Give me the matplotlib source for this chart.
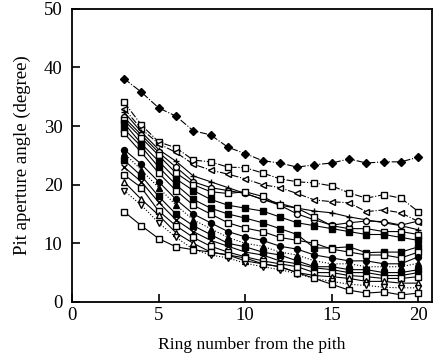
import numpy as np
import matplotlib
matplotlib.use("Agg")
import matplotlib.pyplot as plt

plt.rcParams['font.family'] = ['Liberation Serif', 'DejaVu Serif']

rings = list(range(3, 21))

# pit aperture angle per tree
tree_a = [38.1, 35.8, 33.1, 31.7, 29.2, 28.5, 26.4, 25.3, 24.1, 23.7, 23.0, 23.4, 23.7, 24.4, 23.7, 23.9, 23.9, 24.7]
tree_b = [34.1, 30.2, 27.3, 26.3, 24.2, 23.9, 23.0, 22.9, 22.0, 21.0, 20.5, 20.3, 19.8, 18.6, 17.7, 18.3, 17.7, 15.4]
tree_c = [33.0, 29.5, 27.0, 25.5, 23.5, 22.5, 21.8, 21.0, 20.0, 19.5, 18.5, 17.4, 17.1, 16.9, 15.4, 15.7, 15.2, 13.7]
tree_d = [32.4, 29.0, 26.0, 24.0, 21.5, 20.5, 19.5, 18.5, 17.5, 16.8, 16.0, 15.5, 15.2, 14.5, 14.0, 13.5, 13.0, 12.3]
tree_e = [31.5, 28.5, 25.5, 23.0, 20.5, 19.5, 19.0, 18.5, 17.5, 16.5, 15.0, 14.0, 13.1, 13.5, 13.8, 13.7, 13.1, 13.8]
tree_f = [31.0, 28.0, 25.0, 22.0, 20.0, 18.8, 18.5, 18.8, 18.0, 16.5, 16.0, 14.5, 13.0, 12.5, 12.5, 12.0, 12.0, 11.5]
tree_g = [30.5, 27.0, 24.0, 21.0, 19.0, 17.5, 16.5, 16.0, 15.5, 14.5, 13.5, 13.0, 12.5, 12.0, 11.5, 11.5, 11.0, 10.5]
tree_h = [29.5, 26.5, 23.0, 20.0, 17.5, 16.0, 15.0, 14.3, 13.5, 12.5, 11.5, 9.2, 9.2, 9.4, 8.4, 8.5, 8.5, 9.4]
tree_i = [28.8, 25.5, 22.0, 19.0, 16.5, 15.0, 13.5, 12.6, 12.0, 11.0, 10.5, 10.0, 9.0, 8.5, 8.0, 8.0, 7.5, 8.5]
tree_j = [26.0, 23.5, 20.5, 17.5, 15.0, 13.5, 12.0, 11.1, 10.5, 9.5, 9.0, 8.0, 7.5, 7.0, 7.0, 6.5, 6.5, 7.7]
tree_k = [25.4, 22.5, 19.5, 16.5, 14.0, 12.5, 11.0, 10.0, 9.5, 8.5, 8.0, 7.0, 6.5, 6.5, 6.0, 6.0, 6.0, 6.6]
tree_l = [24.2, 21.5, 18.0, 15.0, 13.0, 11.5, 10.0, 9.4, 8.5, 8.0, 7.0, 6.0, 6.0, 5.5, 5.5, 5.0, 5.0, 5.5]
tree_m = [23.0, 20.5, 17.0, 14.0, 12.0, 10.5, 9.5, 8.5, 8.0, 7.0, 6.5, 5.8, 5.5, 5.0, 5.0, 4.5, 4.5, 5.0]
tree_n = [21.7, 19.5, 15.5, 13.0, 11.0, 9.5, 8.5, 7.7, 7.0, 6.5, 6.0, 5.0, 5.0, 4.5, 4.3, 4.0, 4.0, 4.3]
tree_o = [20.5, 17.5, 14.8, 11.8, 10.0, 8.5, 8.0, 7.0, 6.5, 6.0, 5.0, 4.5, 4.3, 4.0, 3.5, 3.5, 3.2, 3.2]
tree_p = [19.0, 16.5, 13.5, 11.0, 9.0, 8.0, 7.5, 6.6, 6.0, 5.5, 4.8, 4.0, 3.5, 3.0, 2.8, 2.5, 2.4, 2.4]
tree_q = [15.4, 13.0, 10.8, 9.4, 8.9, 8.5, 8.0, 7.5, 6.5, 6.0, 5.0, 4.0, 3.0, 2.0, 1.5, 1.7, 1.2, 1.5]

series = [tree_a, tree_b, tree_c, tree_d, tree_e, tree_f, tree_g, tree_h, tree_i,
          tree_j, tree_k, tree_l, tree_m, tree_n, tree_o, tree_p, tree_q]
markers = ['D', 's', '<', '+', 'o', 's', 's', 's', 's', 'o', '^', 's', 'x', 's', '^', 'v', 's']
filled = [True, False, False, True, False, False, True, True, False, True, True, True, True, False, False, False, False]
styles = ['-.', '-.', '-.', '-', '-', '-', '-', '-', '-', '-', ':', '-', '-', '-', '-', ':', '-']

fig = plt.figure(figsize=(4.37, 3.56), dpi=100)
ax = fig.add_axes([0.165, 0.152, 0.824, 0.823])

for vals, m, f, ls in zip(series, markers, filled, styles):
    ax.plot(rings, vals, linestyle=ls, color='black', linewidth=0.8,
            marker=m, markersize=4.3, markeredgewidth=1.0,
            markerfacecolor='black' if f else 'white', markeredgecolor='black')

ax.set_xlim(0, 20.8)
ax.set_ylim(0, 50)
ax.set_xticks([0, 5, 10, 15, 20])
ax.set_yticks([0, 10, 20, 30, 40, 50])
ax.tick_params(direction='in', length=6, width=1.2, labelsize=13.5)
ax.tick_params(axis='x', pad=4)
ax.tick_params(axis='y', pad=7)
for s in ax.spines.values():
    s.set_linewidth(1.3)

ax.set_xlabel('Ring number from the pith', fontsize=12.6, va='center')
ax.set_ylabel('Pit aperture angle (degree)', fontsize=13.5, va='center')
ax.xaxis.set_label_coords(0.5, -0.147)
ax.yaxis.set_label_coords(-0.139, 0.5)

fig.savefig('out.png', dpi=100)
